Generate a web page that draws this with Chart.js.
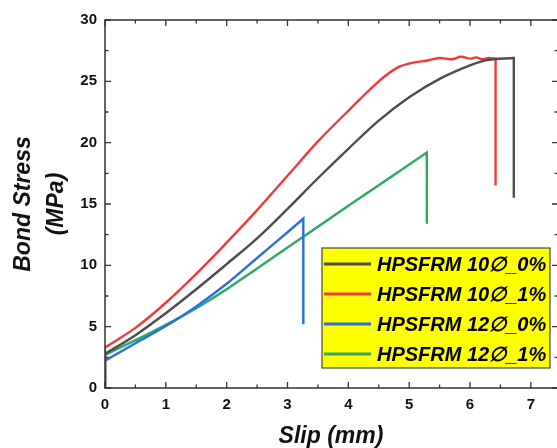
<!DOCTYPE html>
<html>
<head>
<meta charset="utf-8">
<script src="https://cdn.jsdelivr.net/npm/chart.js@4"></script>
<style>
  html, body { margin: 0; padding: 0; background: #fff; }
  #wrap { width: 557px; height: 448px; }
</style>
</head>
<body>
<div id="wrap"><canvas id="bondGraph" width="557" height="448"></canvas></div>
<script>
// data
var seriesNames = ['HPSFRM 10\u2205_0%', 'HPSFRM 10\u2205_1%', 'HPSFRM 12\u2205_0%', 'HPSFRM 12\u2205_1%'];
var seriesColors = ['#4d4d4d', '#f03a3a', '#2a6fe0', '#2fa862'];

var slip10_0 = [0, 0, 0.5, 1.0, 1.5, 2.0, 2.5, 3.0, 3.5, 4.0, 4.5, 5.0, 5.5, 6.0, 6.3, 6.72, 6.72];
var stress10_0 = [0, 2.78, 4.3, 6.1, 8.05, 10.1, 12.2, 14.6, 17.1, 19.5, 21.8, 23.7, 25.2, 26.3, 26.75, 26.9, 15.5];

var slip10_1 = [0, 0, 0.5, 1.0, 1.5, 2.0, 2.5, 3.0, 3.5, 4.0, 4.5, 4.8, 5.05, 5.3, 5.5, 5.7, 5.85, 6.0, 6.1, 6.2, 6.3, 6.42, 6.42];
var stress10_1 = [0, 3.3, 4.9, 6.95, 9.3, 11.85, 14.5, 17.3, 20.1, 22.6, 25.0, 26.1, 26.5, 26.7, 26.9, 26.8, 27.0, 26.85, 26.95, 26.8, 26.9, 26.85, 16.5];

var slip12_0 = [0, 0, 0.5, 1.0, 1.5, 2.0, 2.5, 3.0, 3.26, 3.26];
var stress12_0 = [0, 2.23, 3.65, 5.05, 6.65, 8.5, 10.6, 12.7, 13.8, 5.2];

var slip12_1 = [0, 0, 0.5, 1.0, 1.5, 2.0, 2.5, 3.0, 4.0, 5.29, 5.29];
var stress12_1 = [0, 2.7, 3.9, 5.15, 6.5, 8.05, 9.75, 11.45, 14.85, 19.2, 13.4];

var xTicks = [0, 1, 2, 3, 4, 5, 6, 7];
var yTicks = [0, 5, 10, 15, 20, 25, 30];

var allSlip = [slip10_0, slip10_1, slip12_0, slip12_1];
var allStress = [stress10_0, stress10_1, stress12_0, stress12_1];

// points; a point that starts a vertical jump is repeated so the
// bezier smoothing keeps a sharp corner there instead of overshooting
function toPoints(xs, ys) {
    var pts = [];
    xs.forEach(function (x, i) {
        pts.push({ x: x, y: ys[i] });
        var vertBefore = i > 0 && xs[i - 1] === x;
        var vertAfter = i < xs.length - 1 && xs[i + 1] === x;
        if ((vertBefore || vertAfter) && i > 0 && i < xs.length - 1) {
            pts.push({ x: x, y: ys[i] });
        }
    });
    return pts;
}

var datasets = seriesNames.map(function (name, i) {
    return {
        label: name,
        data: toPoints(allSlip[i], allStress[i]),
        borderColor: seriesColors[i],
        backgroundColor: seriesColors[i],
        borderWidth: 2.4,
        pointRadius: 0,
        tension: 0.35,
        fill: false
    };
});

var FONT = '"Liberation Sans", Arial, sans-serif';

// MARK: frame + inward ticks
var framePlugin = {
    id: 'frame',
    afterDatasetsDraw: function (chart) {
        var ctx = chart.ctx, a = chart.chartArea;
        var xs = chart.scales.x, ys = chart.scales.y;
        ctx.save();
        ctx.strokeStyle = '#333';
        ctx.lineWidth = 1.5;
        ctx.beginPath();
        ctx.moveTo(a.right + 2, a.top); ctx.lineTo(a.left, a.top);
        ctx.lineTo(a.left, a.bottom); ctx.lineTo(a.right + 2, a.bottom);
        ctx.stroke();
        ctx.lineWidth = 1.3;
        ctx.beginPath();
        for (var v = 0; v <= 7.4; v += 0.5) {
            var px = xs.getPixelForValue(v);
            var len = (v % 1 === 0) ? 6 : 3.5;
            ctx.moveTo(px, a.bottom); ctx.lineTo(px, a.bottom - len);
            ctx.moveTo(px, a.top); ctx.lineTo(px, a.top + len);
        }
        for (var w = 0; w <= 30; w += 2.5) {
            var py = ys.getPixelForValue(w);
            var l2 = (w % 5 === 0) ? 6 : 3.5;
            ctx.moveTo(a.left, py); ctx.lineTo(a.left + l2, py);
            ctx.moveTo(a.right + 1, py); ctx.lineTo(a.right + 1 - l2, py);
        }
        ctx.stroke();
        ctx.restore();
    }
};

// MARK: yellow legend box inside the plot
var boxLegend = {
    id: 'boxLegend',
    afterDraw: function (chart) {
        var ctx = chart.ctx;
        var bx = 322, by = 248, bw = 228, bh = 120;
        ctx.save();
        ctx.fillStyle = '#ffff00';
        ctx.fillRect(bx, by, bw, bh);
        ctx.strokeStyle = '#444';
        ctx.lineWidth = 1.2;
        ctx.strokeRect(bx, by, bw, bh);
        ctx.font = 'italic bold 20px ' + FONT;
        ctx.textBaseline = 'middle';
        ctx.textAlign = 'left';
        chart.data.datasets.forEach(function (ds, i) {
            var y = by + 16 + i * 30;
            ctx.strokeStyle = ds.borderColor;
            ctx.lineWidth = 3;
            ctx.beginPath();
            ctx.moveTo(bx + 2, y);
            ctx.lineTo(bx + 49, y);
            ctx.stroke();
            ctx.fillStyle = '#000';
            ctx.fillText(ds.label, bx + 55, y + 1);
        });
        ctx.restore();
    }
};

var ctx = document.getElementById('bondGraph');
var bondChart = new Chart(ctx, {
    type: 'line',
    data: { datasets: datasets },
    plugins: [framePlugin, boxLegend],
    options: {
        responsive: false,
        animation: false,
        layout: { padding: { top: 20, right: 0, left: 0, bottom: 0 } },
        plugins: {
            legend: { display: false },
            tooltip: { enabled: false }
        },
        scales: {
            x: {
                type: 'linear',
                min: 0,
                max: 7.43,
                afterBuildTicks: function (scale) {
                    scale.ticks = xTicks.map(function (v) { return { value: v }; });
                },
                afterFit: function (scale) { scale.height = 60; },
                grid: { display: false, drawTicks: false },
                border: { display: false },
                ticks: {
                    padding: 8,
                    color: '#111',
                    font: { family: FONT, size: 15, weight: 'bold' },
                    maxRotation: 0
                },
                title: {
                    display: true,
                    text: 'Slip (mm)',
                    color: '#111',
                    padding: { top: 0, bottom: 0 },
                    font: { family: FONT, size: 23, weight: 'bold', style: 'italic', lineHeight: 1 }
                }
            },
            y: {
                type: 'linear',
                min: 0,
                max: 30,
                afterBuildTicks: function (scale) {
                    scale.ticks = yTicks.map(function (v) { return { value: v }; });
                },
                afterFit: function (scale) { scale.width = 105; },
                grid: { display: false, drawTicks: false },
                border: { display: false },
                ticks: {
                    padding: 8,
                    color: '#111',
                    font: { family: FONT, size: 15, weight: 'bold' }
                },
                title: {
                    display: true,
                    text: ['Bond Stress', '(MPa)'],
                    color: '#111',
                    padding: { top: 7, bottom: 0 },
                    font: { family: FONT, size: 23, weight: 'bold', style: 'italic', lineHeight: 1.45 }
                }
            }
        }
    }
});
</script>
</body>
</html>
